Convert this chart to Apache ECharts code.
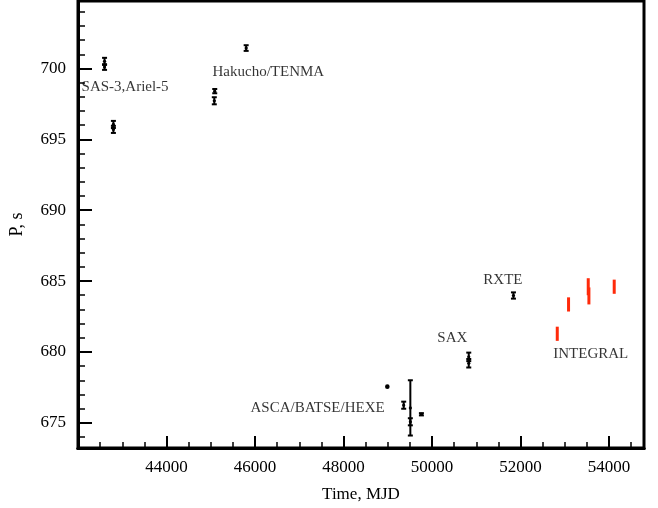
<!DOCTYPE html>
<html>
<head>
<meta charset="utf-8">
<style>
  html, body { margin: 0; padding: 0; background: #fff; }
  #chart { width: 658px; height: 508px; }
</style>
<script src="https://cdn.jsdelivr.net/npm/echarts@6/dist/echarts.min.js"></script>
</head>
<body>
<div id="chart"></div>
<script>
// Pulse period measurements (MJD, period in s, 1-sigma error)
const mjdArchive = [42600, 42600, 42800, 42800, 45080, 45090, 45800, 48990, 49360, 49510, 49510, 49760, 50830, 50830, 51840];
const periodArchive = [700.5, 700.1, 696.05, 695.7, 697.72, 698.4, 701.44, 677.55, 676.24, 676.05, 675.07, 675.6, 679.65, 679.2, 683.98];
const errorArchive = [0.25, 0.2, 0.25, 0.25, 0.25, 0.15, 0.2, 0, 0.25, 1.95, 0.25, 0.08, 0.3, 0.3, 0.22];

// INTEGRAL measurements
const mjdIntegral = [52830, 53085, 53530, 53545, 54117];
const periodIntegral = [681.28, 683.35, 684.6, 683.95, 684.6];
const errorIntegral = [0.5, 0.5, 0.6, 0.6, 0.5];

// Mission labels: [MJD, period, text] (left edge of the text)
const missionLabels = [
  [42080, 698.67, 'SAS-3,Ariel-5'],
  [45039, 699.72, 'Hakucho/TENMA'],
  [45897, 676.01, 'ASCA/BATSE/HEXE'],
  [51159, 685.1, 'RXTE'],
  [50120, 680.98, 'SAX'],
  [52740, 679.86, 'INTEGRAL']
];

const xMajor = [44000, 46000, 48000, 50000, 52000, 54000];
const yMajor = [675, 680, 685, 690, 695, 700];

const X_MIN = 42000, X_MAX = 54790;
const Y_MIN = 673.22, Y_MAX = 704.76;

const FONT = "'Liberation Serif', 'Times New Roman', serif";

const xMinor = [];
for (let v = 42500; v < X_MAX; v += 500) xMinor.push(v);
const yMinor = [];
for (let v = 674; v < Y_MAX; v += 1) yMinor.push(v);

function zip3(a, b, c) { return a.map((v, i) => [v, b[i], c[i]]); }

function errorBarItem(color, width, caps, marker) {
  return function (params, api) {
    const x = api.value(0), p = api.value(1), e = api.value(2);
    const top = api.coord([x, p + e]);
    const bot = api.coord([x, p - e]);
    const mid = api.coord([x, p]);
    const style = { stroke: color, lineWidth: width };
    const children = [];
    if (e > 0) {
      children.push({
        type: 'line',
        shape: { x1: top[0], y1: top[1], x2: bot[0], y2: bot[1] },
        style: style
      });
      if (caps) {
        children.push({ type: 'line', shape: { x1: top[0] - 2.5, y1: top[1], x2: top[0] + 2.5, y2: top[1] }, style: style });
        children.push({ type: 'line', shape: { x1: bot[0] - 2.5, y1: bot[1], x2: bot[0] + 2.5, y2: bot[1] }, style: style });
      }
    }
    if (marker) {
      children.push({ type: 'circle', shape: { cx: mid[0], cy: mid[1], r: e > 0 ? 1.6 : 2.3 }, style: { fill: color } });
    }
    return { type: 'group', children: children };
  };
}

const chart = echarts.init(document.getElementById('chart'), null, { renderer: 'canvas' });

const plain = v => String(v);

const baseX = {
  type: 'value', min: X_MIN, max: X_MAX, position: 'bottom',
  splitLine: { show: false },
  axisLine: { show: true, lineStyle: { color: '#000', width: 3 } }
};
const baseY = {
  type: 'value', min: Y_MIN, max: Y_MAX, position: 'left',
  splitLine: { show: false },
  axisLine: { show: true, lineStyle: { color: '#000', width: 3 } }
};

chart.setOption({
  backgroundColor: '#fff',
  animation: false,
  grid: {
    left: 78, right: 14, top: 1, bottom: 56,
    show: true, borderColor: '#000', borderWidth: 3, backgroundColor: 'transparent'
  },
  xAxis: [
    Object.assign({}, baseX, {
      name: 'Time, MJD', nameLocation: 'middle', nameGap: 38,
      nameTextStyle: { fontFamily: FONT, fontSize: 17, color: '#000' },
      axisTick: { show: true, inside: true, length: 12, lineStyle: { color: '#000', width: 2 }, customValues: xMajor },
      axisLabel: { show: true, margin: 11, fontFamily: FONT, fontSize: 17, color: '#000', customValues: xMajor, formatter: plain }
    }),
    Object.assign({}, baseX, {
      axisTick: { show: true, inside: true, length: 6, lineStyle: { color: '#000', width: 1.5 }, customValues: xMinor },
      axisLabel: { show: false }
    })
  ],
  yAxis: [
    Object.assign({}, baseY, {
      name: 'P, s', nameLocation: 'middle', nameGap: 52, nameRotate: 90,
      nameTextStyle: { fontFamily: FONT, fontSize: 18, color: '#000' },
      axisTick: { show: true, inside: true, length: 14, lineStyle: { color: '#000', width: 2 }, customValues: yMajor },
      axisLabel: { show: true, margin: 12, fontFamily: FONT, fontSize: 17, color: '#000', customValues: yMajor, formatter: plain }
    }),
    Object.assign({}, baseY, {
      axisTick: { show: true, inside: true, length: 7, lineStyle: { color: '#000', width: 1.5 }, customValues: yMinor },
      axisLabel: { show: false }
    })
  ],
  series: [
    {
      type: 'custom', name: 'archive', xAxisIndex: 0, yAxisIndex: 0,
      renderItem: errorBarItem('#000', 2, true, true),
      encode: { x: 0, y: 1 },
      data: zip3(mjdArchive, periodArchive, errorArchive),
      z: 3
    },
    {
      type: 'custom', name: 'INTEGRAL', xAxisIndex: 0, yAxisIndex: 0,
      renderItem: errorBarItem('#ff2a0a', 3, false, false),
      encode: { x: 0, y: 1 },
      data: zip3(mjdIntegral, periodIntegral, errorIntegral),
      z: 4
    },
    {
      type: 'scatter', name: 'missions', xAxisIndex: 0, yAxisIndex: 0,
      symbolSize: 0, silent: true,
      data: missionLabels.map(d => ({ value: [d[0], d[1]], name: d[2] })),
      label: {
        show: true, position: 'right', distance: 0,
        formatter: p => p.name,
        fontFamily: FONT, fontSize: 15, color: '#000'
      },
      z: 5
    }
  ]
});
</script>
</body>
</html>
